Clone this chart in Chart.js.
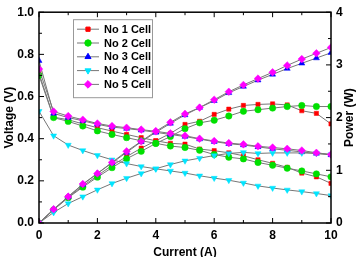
<!DOCTYPE html>
<html>
<head>
<meta charset="utf-8">
<script src="https://cdn.jsdelivr.net/npm/chart.js"></script>
<style>
  html, body { margin: 0; padding: 0; background: #fff; }
</style>
</head>
<body>
<canvas id="chart" width="359" height="257"></canvas>
<script>
// Data: arus (A), tegangan (V) dan daya (W) tiap sel
const current = [0, 0.5, 1, 1.5, 2, 2.5, 3, 3.5, 4, 4.5, 5, 5.5, 6, 6.5, 7, 7.5, 8, 8.5, 9, 9.5, 10];
const cellNames = ['No 1 Cell', 'No 2 Cell', 'No 3 Cell', 'No 4 Cell', 'No 5 Cell'];

const voltCell1 = [0.71, 0.502, 0.49, 0.47, 0.452, 0.436, 0.42, 0.405, 0.39, 0.378, 0.374, 0.351, 0.343, 0.333, 0.319, 0.30, 0.283, 0.264, 0.237, 0.219, 0.188];
const voltCell2 = [0.70, 0.50, 0.482, 0.46, 0.437, 0.42, 0.405, 0.39, 0.378, 0.365, 0.358, 0.345, 0.325, 0.312, 0.304, 0.287, 0.274, 0.26, 0.247, 0.233, 0.219];
const voltCell3 = [0.77, 0.52, 0.50, 0.485, 0.468, 0.455, 0.448, 0.44, 0.43, 0.42, 0.41, 0.398, 0.386, 0.376, 0.37, 0.361, 0.352, 0.345, 0.337, 0.33, 0.323];
const voltCell4 = [0.53, 0.414, 0.37, 0.344, 0.321, 0.30, 0.282, 0.268, 0.257, 0.247, 0.237, 0.224, 0.213, 0.203, 0.19, 0.176, 0.166, 0.157, 0.149, 0.14, 0.13];
const voltCell5 = [0.73, 0.529, 0.507, 0.49, 0.472, 0.46, 0.452, 0.443, 0.435, 0.425, 0.414, 0.40, 0.389, 0.379, 0.373, 0.364, 0.358, 0.352, 0.344, 0.333, 0.325];

const powerCell1 = [0, 0.25, 0.49, 0.70, 0.90, 1.09, 1.26, 1.42, 1.56, 1.70, 1.87, 1.93, 2.06, 2.16, 2.23, 2.25, 2.26, 2.24, 2.13, 2.08, 1.88];
const powerCell2 = [0, 0.25, 0.48, 0.68, 0.87, 1.05, 1.22, 1.36, 1.51, 1.64, 1.79, 1.90, 1.95, 2.03, 2.12, 2.15, 2.18, 2.21, 2.23, 2.21, 2.21];
const powerCell3 = [0, 0.26, 0.50, 0.73, 0.94, 1.14, 1.34, 1.54, 1.72, 1.89, 2.05, 2.19, 2.32, 2.47, 2.59, 2.71, 2.82, 2.93, 3.03, 3.13, 3.23];
const powerCell4 = [0, 0.20, 0.37, 0.50, 0.63, 0.75, 0.85, 0.94, 1.03, 1.11, 1.18, 1.23, 1.28, 1.32, 1.34, 1.32, 1.33, 1.33, 1.33, 1.32, 1.30];
const powerCell5 = [0, 0.26, 0.50, 0.74, 0.94, 1.15, 1.36, 1.55, 1.74, 1.91, 2.07, 2.19, 2.34, 2.49, 2.62, 2.74, 2.86, 2.99, 3.11, 3.22, 3.33];

const xTicks = [0, 2, 4, 6, 8, 10];
const voltTicks = [0, 0.2, 0.4, 0.6, 0.8, 1.0];
const powerTicks = [0, 1, 2, 3, 4];

const voltSeries = [voltCell1, voltCell2, voltCell3, voltCell4, voltCell5];
const powerSeries = [powerCell1, powerCell2, powerCell3, powerCell4, powerCell5];

// gaya penanda tiap sel (kotak, bulat, segitiga, segitiga terbalik, belah ketupat)
const markerColors = ['#ff0000', '#00e000', '#0000ff', '#00e5ff', '#ff00ff'];
const markerStyles = ['rect', 'circle', 'triangle', 'triangle', 'rectRot'];
const markerRotation = [0, 0, 0, 180, 0];
const markerRadius = [3, 3.2, 3.5, 3.5, 3.8];
const lineGray = '#777777';
const FONT = 'Arial, "Liberation Sans", sans-serif';

const toPoints = arr => arr.map((v, i) => ({ x: current[i], y: v }));

const datasets = [];
cellNames.forEach((name, i) => {
  const common = {
    borderColor: lineGray,
    borderWidth: 1,
    pointStyle: markerStyles[i],
    pointRotation: markerRotation[i],
    pointRadius: markerRadius[i],
    pointBackgroundColor: markerColors[i],
    pointBorderColor: markerColors[i],
    pointBorderWidth: 0.5,
    tension: 0,
    fill: false,
    order: 5 - i
  };
  datasets.push(Object.assign({ label: name, data: toPoints(voltSeries[i]), yAxisID: 'y' }, common));
  datasets.push(Object.assign({ label: name + ' power', data: toPoints(powerSeries[i]), yAxisID: 'y1' }, common));
});

// garis tick ke dalam + bingkai + judul sumbu kanan (dibaca dari bawah ke atas)
const frameTicks = {
  id: 'frameTicks',
  afterDraw(chart) {
    const { ctx, chartArea: a, scales } = chart;
    const seg = (x1, y1, x2, y2) => { ctx.beginPath(); ctx.moveTo(x1, y1); ctx.lineTo(x2, y2); ctx.stroke(); };
    ctx.save();
    ctx.strokeStyle = '#000';
    ctx.lineWidth = 1;
    for (let k = 0; k <= 10; k++) {
      const px = scales.x.getPixelForValue(k);
      const len = k % 2 === 0 ? 5 : 3;
      seg(px, a.bottom, px, a.bottom - len);
      seg(px, a.top, px, a.top + len);
    }
    for (let k = 0; k <= 10; k++) {
      const py = scales.y.getPixelForValue(k / 10);
      seg(a.left, py, a.left + (k % 2 === 0 ? 5 : 3), py);
    }
    for (let k = 0; k <= 8; k++) {
      const py = scales.y1.getPixelForValue(k / 2);
      seg(a.right, py, a.right - (k % 2 === 0 ? 5 : 3), py);
    }
    ctx.lineWidth = 1.5;
    ctx.strokeRect(a.left, a.top, a.right - a.left, a.bottom - a.top);

    ctx.translate(chart.width - 9, (a.top + a.bottom) / 2);
    ctx.rotate(-Math.PI / 2);
    ctx.fillStyle = '#000';
    ctx.font = 'bold 12px ' + FONT;
    ctx.textAlign = 'center';
    ctx.textBaseline = 'middle';
    ctx.fillText('Power (W)', 0, 0);
    ctx.restore();
  }
};

// legenda di dalam area plot
const boxLegend = {
  id: 'boxLegend',
  afterDraw(chart) {
    const { ctx, chartArea: a } = chart;
    const x0 = a.left + 34, y0 = a.top + 7, w = 79, h = 78;
    ctx.save();
    ctx.fillStyle = '#fff';
    ctx.fillRect(x0, y0, w, h);
    ctx.strokeStyle = '#999';
    ctx.lineWidth = 1;
    ctx.strokeRect(x0 + 0.5, y0 + 0.5, w, h);
    cellNames.forEach((name, i) => {
      const y = y0 + 10 + i * 13.8;
      ctx.strokeStyle = lineGray;
      ctx.beginPath();
      ctx.moveTo(x0 + 4, y);
      ctx.lineTo(x0 + 26, y);
      ctx.stroke();
      ctx.fillStyle = markerColors[i];
      ctx.strokeStyle = markerColors[i];
      Chart.helpers.drawPoint(ctx, {
        pointStyle: markerStyles[i],
        rotation: markerRotation[i],
        radius: markerRadius[i],
        borderWidth: 0.5
      }, x0 + 15, y);
      ctx.fillStyle = '#000';
      ctx.font = 'bold 11px ' + FONT;
      ctx.textBaseline = 'middle';
      ctx.textAlign = 'left';
      ctx.fillText(name, x0 + 31, y + 0.5);
    });
    ctx.restore();
  }
};

const tickFont = { family: FONT, size: 12, weight: 'bold' };
const titleFont = { family: FONT, size: 12, weight: 'bold' };

new Chart(document.getElementById('chart'), {
  type: 'line',
  data: { datasets },
  plugins: [frameTicks, boxLegend],
  options: {
    responsive: false,
    animation: false,
    devicePixelRatio: 1,
    layout: { padding: { top: 8, right: 0, bottom: 0, left: 0 } },
    plugins: { legend: { display: false }, tooltip: { enabled: false } },
    scales: {
      x: {
        type: 'linear', min: 0, max: 10,
        afterFit: s => { s.height = 34; },
        afterBuildTicks: s => { s.ticks = xTicks.map(v => ({ value: v })); },
        grid: { display: false, drawTicks: false },
        border: { display: false },
        ticks: { color: '#000', font: tickFont, padding: 5, callback: v => String(v) },
        title: { display: true, text: 'Current (A)', color: '#000', font: titleFont, padding: { top: 4, bottom: -3 } }
      },
      y: {
        type: 'linear', position: 'left', min: 0, max: 1,
        afterFit: s => { s.width = 39; },
        afterBuildTicks: s => { s.ticks = voltTicks.map(v => ({ value: v })); },
        grid: { display: false, drawTicks: false },
        border: { display: false },
        ticks: { color: '#000', font: tickFont, padding: 5, callback: v => Number(v).toFixed(1) },
        title: { display: true, text: 'Voltage (V)', color: '#000', font: titleFont, padding: { top: 2, bottom: 0 } }
      },
      y1: {
        type: 'linear', position: 'right', min: 0, max: 4,
        afterFit: s => { s.width = 28; },
        afterBuildTicks: s => { s.ticks = powerTicks.map(v => ({ value: v })); },
        grid: { display: false, drawTicks: false },
        border: { display: false },
        ticks: { color: '#000', font: tickFont, padding: 5, callback: v => String(v) }
      }
    }
  }
});
</script>
</body>
</html>
